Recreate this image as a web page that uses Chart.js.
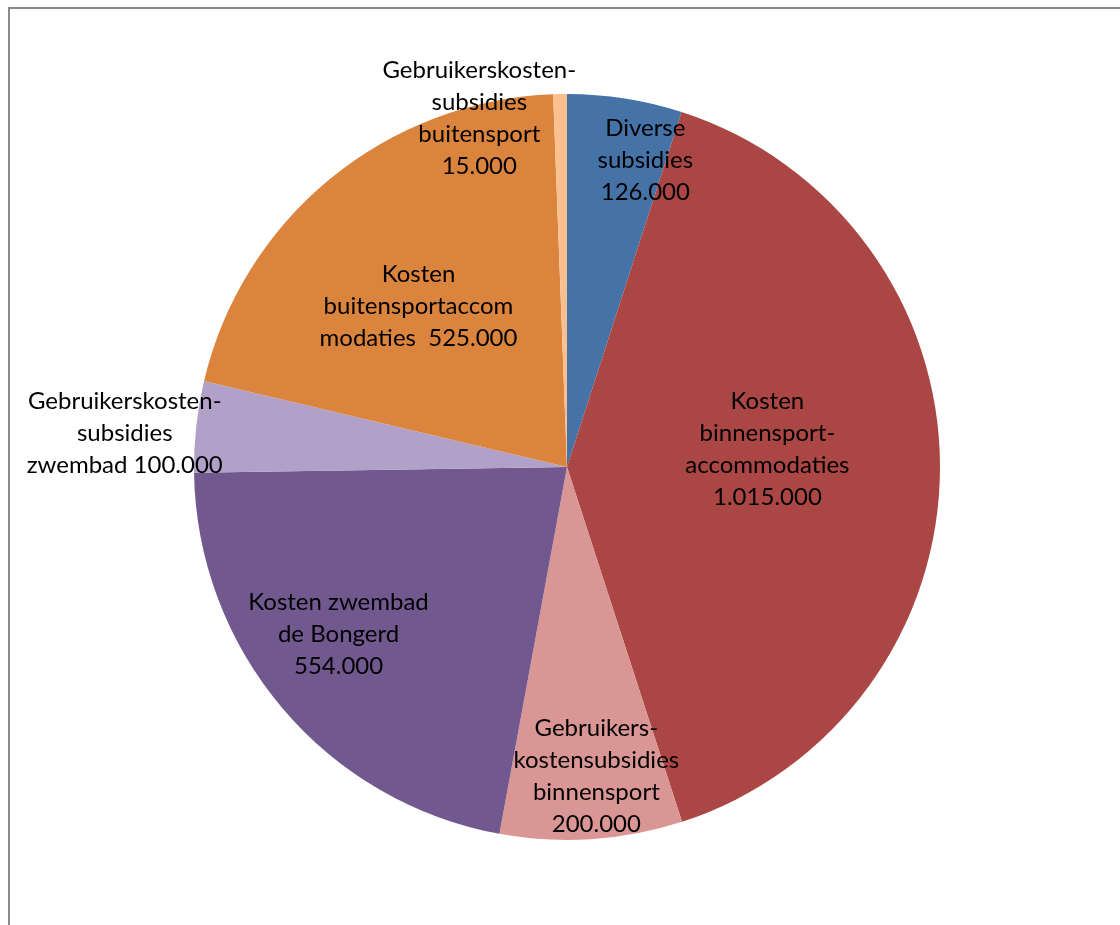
<!DOCTYPE html>
<html>
<head>
<meta charset="utf-8">
<script src="https://cdn.jsdelivr.net/npm/chart.js@4"></script>
<style>
    html, body { margin: 0; padding: 0; background: #fff; }
    #wrap { width: 1120px; height: 925px; position: relative; }
</style>
</head>
<body>
<div id="wrap"><canvas id="pieChart" width="1120" height="925"></canvas></div>
<script>
// Sport budget pie chart
const categories = [
    'Diverse subsidies',
    'Kosten binnensport-accommodaties',
    'Gebruikers-kostensubsidies binnensport',
    'Kosten zwembad de Bongerd',
    'Gebruikerskosten-subsidies zwembad',
    'Kosten buitensportaccommodaties',
    'Gebruikerskosten-subsidies buitensport'
];
const values = [126000, 1015000, 200000, 554000, 100000, 525000, 15000];

// label text as wrapped in the original (value gets appended)
const labelLines = [
    ['Diverse', 'subsidies'],
    ['Kosten', 'binnensport-', 'accommodaties'],
    ['Gebruikers-', 'kostensubsidies', 'binnensport'],
    ['Kosten zwembad', 'de Bongerd'],
    ['Gebruikerskosten-', 'subsidies', 'zwembad '],
    ['Kosten', 'buitensportaccom', 'modaties  '],
    ['Gebruikerskosten-', 'subsidies', 'buitensport']
];
// last text line joins the value on the same line?
const valueInline = [false, false, false, false, true, true, false];

const colors = ['#4572A7', '#AA4643', '#DA9694', '#71588F', '#B1A0C7', '#DB843D', '#FAC090'];

// label placement: fraction of radius along slice middle, plus nudge
const labelPlacement = [
    { f: 0.85, dx: 29, dy: 6 },
    { f: 0.54, dx: -1, dy: -18 },
    { f: 0.83, dx: 9, dy: 0 },
    { f: 0.76, dx: -12, dy: -16 },
    { f: 1.19, dx: -1, dy: 14 },
    { f: 0.585, dx: -10, dy: 8 },
    { f: 0.965, dx: -81, dy: 11 }
];

const fmt = v => v.toLocaleString('de-DE');

const framePlugin = {
    id: 'frame',
    beforeDraw(chart) {
        const ctx = chart.ctx;
        ctx.save();
        ctx.strokeStyle = '#8a8a8a';
        ctx.lineWidth = 2;
        ctx.beginPath();
        ctx.moveTo(9, 930);
        ctx.lineTo(9, 8);
        ctx.lineTo(1125, 8);
        ctx.stroke();
        ctx.restore();
    }
};

const labelPlugin = {
    id: 'sliceLabels',
    afterDatasetsDraw(chart) {
        const ctx = chart.ctx;
        const meta = chart.getDatasetMeta(0);
        ctx.save();
        ctx.font = '24px Lato, "Open Sans", sans-serif';
        ctx.fillStyle = '#000';
        ctx.textAlign = 'center';
        ctx.textBaseline = 'middle';
        const lineH = 32;
        meta.data.forEach((arc, i) => {
            const p = arc.getProps(['x', 'y', 'startAngle', 'endAngle', 'outerRadius'], true);
            const mid = (p.startAngle + p.endAngle) / 2;
            const pl = labelPlacement[i];
            const r = p.outerRadius * pl.f;
            const cx = p.x + Math.cos(mid) * r + pl.dx;
            const cy = p.y + Math.sin(mid) * r + pl.dy;
            const lines = labelLines[i].slice();
            if (valueInline[i]) {
                lines[lines.length - 1] = lines[lines.length - 1] + fmt(values[i]);
            } else {
                lines.push(fmt(values[i]));
            }
            const top = cy - (lines.length - 1) * lineH / 2;
            lines.forEach((t, k) => ctx.fillText(t, cx, top + k * lineH));
        });
        ctx.restore();
    }
};

const ctx = document.getElementById('pieChart').getContext('2d');
new Chart(ctx, {
    type: 'pie',
    data: {
        labels: categories,
        datasets: [{
            data: values,
            backgroundColor: colors,
            borderWidth: 0
        }]
    },
    options: {
        responsive: false,
        animation: false,
        layout: {
            padding: { left: 194, right: 180, top: 94, bottom: 85 }
        },
        plugins: {
            legend: { display: false },
            tooltip: { enabled: false }
        }
    },
    plugins: [framePlugin, labelPlugin]
});
</script>
</body>
</html>
